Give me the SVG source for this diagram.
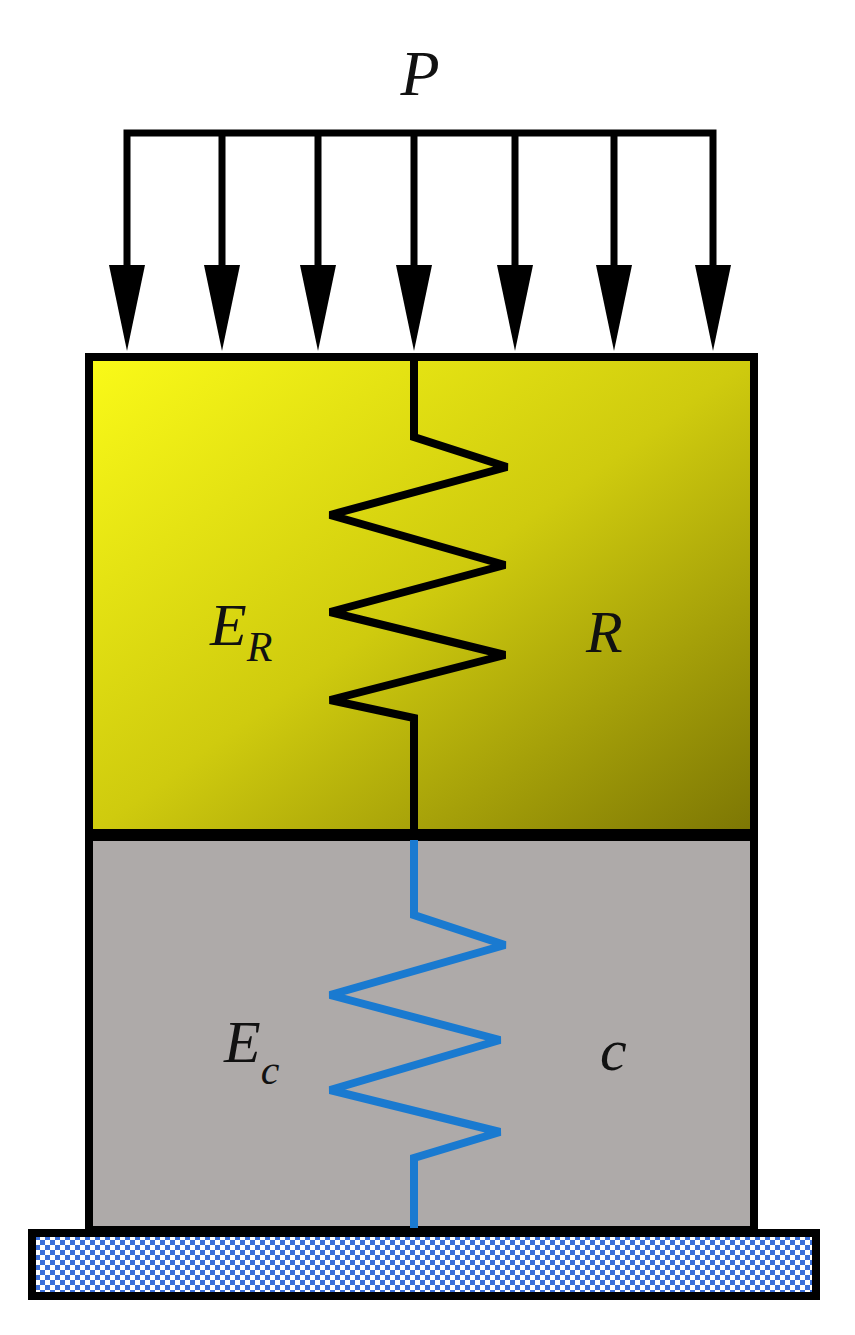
<svg xmlns="http://www.w3.org/2000/svg" width="855" height="1335" viewBox="0 0 855 1335">
<defs>
<linearGradient id="yg" x1="0" y1="0" x2="1" y2="1">
<stop offset="0" stop-color="#fafa18"/><stop offset="0.5" stop-color="#cfcb0e"/><stop offset="1" stop-color="#7c7604"/>
</linearGradient>
<pattern id="chk" width="10" height="10" patternUnits="userSpaceOnUse">
<rect width="10" height="10" fill="#fff"/>
<rect x="0" y="0" width="5" height="5" fill="#3a6fd8"/>
<rect x="5" y="5" width="5" height="5" fill="#3a6fd8"/>
</pattern>
<style>
.lbl{font-family:"Liberation Serif",serif;font-style:italic;fill:#111}
.arr{stroke:#000;stroke-width:7;fill:none}
</style>
</defs>
<g id="load">
<text class="lbl" x="420" y="95" font-size="64" text-anchor="middle">P</text>
<path d="M127,265 V133 H713 V265" class="arr"/>
</g>
<g id="connectors">
<g fill="#000">
<line x1="222" y1="133" x2="222" y2="265" class="arr"/>
<line x1="318" y1="133" x2="318" y2="265" class="arr"/>
<line x1="414" y1="133" x2="414" y2="265" class="arr"/>
<line x1="515" y1="133" x2="515" y2="265" class="arr"/>
<line x1="614" y1="133" x2="614" y2="265" class="arr"/>
<path d="M109,265 H145 L127,351 Z"/>
<path d="M204,265 H240 L222,351 Z"/>
<path d="M300,265 H336 L318,351 Z"/>
<path d="M396,265 H432 L414,351 Z"/>
<path d="M497,265 H533 L515,351 Z"/>
<path d="M596,265 H632 L614,351 Z"/>
<path d="M695,265 H731 L713,351 Z"/>
</g>
</g>
<g id="rock">
<rect x="89" y="357" width="665" height="476" fill="url(#yg)" stroke="#000" stroke-width="8"/>
<polyline points="414,360 414,437 507,467 330,515 505,565 330,612 505,655 330,700 414,718 414,833" fill="none" stroke="#000" stroke-width="8" stroke-miterlimit="2"/>
<text class="lbl" x="210" y="645" font-size="60">E<tspan font-size="42" dy="16">R</tspan></text>
<text class="lbl" x="586" y="652" font-size="60">R</text>
</g>
<g id="coal">
<rect x="89" y="837" width="665" height="393" fill="#aeaaa9" stroke="#000" stroke-width="8"/>
<polyline points="414,840 414,915 505,945 330,995 500,1040 330,1090 500,1132 414,1158 414,1228" fill="none" stroke="#1a7ad0" stroke-width="8" stroke-miterlimit="2"/>
<text class="lbl" x="224" y="1062" font-size="60">E<tspan font-size="42" dy="22">c</tspan></text>
<text class="lbl" x="600" y="1070" font-size="60">c</text>
</g>
<g id="base">
<rect x="32" y="1233" width="784" height="63" fill="url(#chk)" stroke="#000" stroke-width="8"/>
</g>
</svg>
